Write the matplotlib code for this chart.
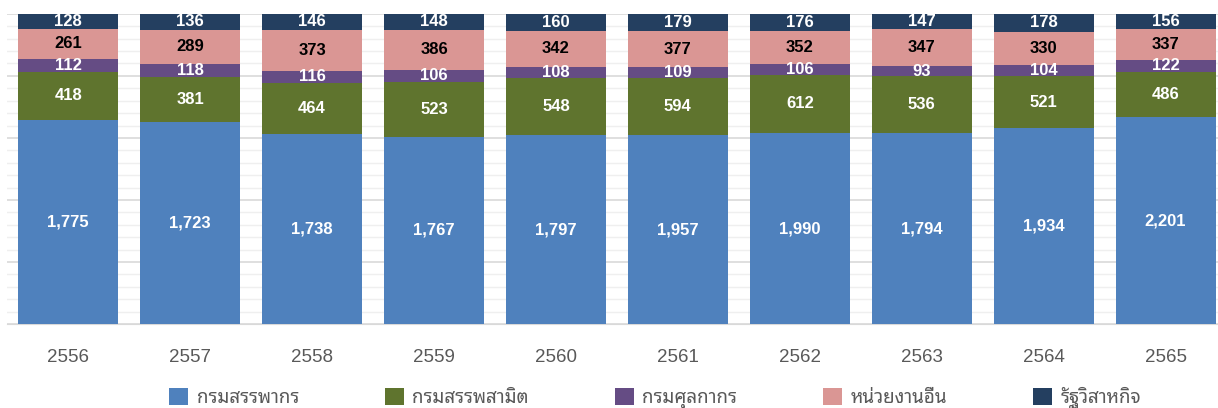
import matplotlib
matplotlib.use("Agg")
import matplotlib.pyplot as plt
import numpy as np

years = ['2556', '2557', '2558', '2559', '2560', '2561', '2562', '2563', '2564', '2565']
series = ['กรมสรรพากร', 'กรมสรรพสามิต', 'กรมศุลกากร', 'หน่วยงานอื่น', 'รัฐวิสาหกิจ']
revenue = [1775, 1723, 1738, 1767, 1797, 1957, 1990, 1794, 1934, 2201]
excise = [418, 381, 464, 523, 548, 594, 612, 536, 521, 486]
customs = [112, 118, 116, 106, 108, 109, 106, 93, 104, 122]
other = [261, 289, 373, 386, 342, 377, 352, 347, 330, 337]
soe = [128, 136, 146, 148, 160, 179, 176, 147, 178, 156]

colors = ['#4f81bd', '#5f742e', '#654c84', '#da9694', '#243f60']
label_colors = ['white', 'white', 'white', 'black', 'white']

data = np.array([revenue, excise, customs, other, soe], dtype=float)
share = data / data.sum(axis=0) * 100

fig = plt.figure(figsize=(12.18, 4.08), dpi=100)
ax = fig.add_axes([0.006, 0.206, 0.994, 0.76])

x = np.arange(len(years))
bottom = np.zeros(len(years))
handles = []
for i in range(len(series)):
    b = ax.bar(x, share[i], 0.82, bottom=bottom, color=colors[i], label=series[i], zorder=3)
    handles.append(b)
    for j in range(len(years)):
        ax.text(x[j], bottom[j] + share[i][j] / 2, f'{int(data[i][j]):,}',
                ha='center', va='center', color=label_colors[i], fontsize=12,
                fontweight='bold', family='Liberation Sans', zorder=4)
    bottom += share[i]

ax.set_xlim(-0.5, 9.43)
ax.set_ylim(0, 100)
ax.set_yticks(np.arange(0, 101, 20))
ax.set_yticks(np.arange(0, 101, 4), minor=True)
ax.grid(axis='y', which='major', color='#d9d9d9', linewidth=1.2, zorder=0)
ax.grid(axis='y', which='minor', color='#efefef', linewidth=1, zorder=0)
ax.tick_params(axis='y', which='both', left=False, labelleft=False)
ax.tick_params(axis='x', length=0, pad=18, labelsize=13.5, labelcolor='#595959')
ax.set_xticks(x)
ax.set_xticklabels(years, family='Liberation Sans')
for s in ['top', 'right', 'left']:
    ax.spines[s].set_visible(False)
ax.spines['bottom'].set_color('#d9d9d9')

fig.legend(handles, series, loc='lower center', bbox_to_anchor=(0.538, -0.045), ncol=5,
           frameon=False, handlelength=1.0, handleheight=1.0, handletextpad=0.45,
           columnspacing=4.6, prop={'family': 'Noto Sans Thai Looped', 'size': 13.5},
           labelcolor='#595959')

fig.savefig('out.png')
